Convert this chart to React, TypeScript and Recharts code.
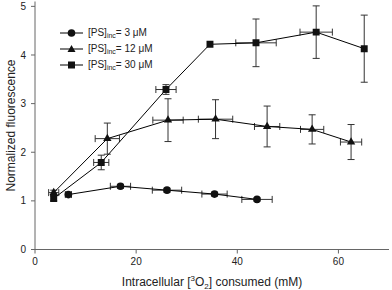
import { ScatterChart, Scatter, XAxis, YAxis, ErrorBar, Symbols } from 'recharts';

const xTicks = [0, 20, 40, 60];
const yTicks = [0, 1, 2, 3, 4, 5];

// [PS]inc = 3 uM
const x3 = [6.6, 16.9, 26.1, 35.5, 43.9];
const y3 = [1.13, 1.3, 1.22, 1.14, 1.03];
const ex3 = [0.6, 2.0, 2.9, 2.5, 3.0];
const ey3 = [0.03, 0.04, 0.04, 0.04, 0.03];

// [PS]inc = 12 uM
const x12 = [3.7, 14.3, 26.3, 35.7, 45.9, 54.8, 62.5];
const y12 = [1.17, 2.28, 2.66, 2.68, 2.53, 2.47, 2.21];
const ex12 = [1.0, 2.4, 3.0, 3.4, 2.5, 2.3, 2.1];
const ey12 = [0.05, 0.32, 0.44, 0.4, 0.42, 0.3, 0.36];

// [PS]inc = 30 uM
const x30 = [3.7, 13.1, 25.9, 34.6, 43.7, 55.6, 65.1];
const y30 = [1.05, 1.79, 3.29, 4.22, 4.25, 4.47, 4.13];
const ex30 = [0.5, 1.5, 2.0, 0, 4.0, 3.2, 0];
const ey30 = [0.05, 0.15, 0.1, 0, 0.49, 0.54, 0.69];

const toRows = (xs: number[], ys: number[], exs: number[], eys: number[]) =>
  xs.map((x, i) => ({ x, y: ys[i], ex: exs[i], ey: eys[i] }));

const series = [
  { conc: '3', shape: 'circle', size: 46, data: toRows(x3, y3, ex3, ey3) },
  { conc: '12', shape: 'triangle', size: 30, data: toRows(x12, y12, ex12, ey12) },
  { conc: '30', shape: 'square', size: 48, data: toRows(x30, y30, ex30, ey30) },
];

const font = '"Liberation Sans", Arial, sans-serif';

const XLabel = ({ viewBox }: any) => (
  <text x={viewBox.x + viewBox.width / 2} y={viewBox.y + 36} textAnchor="middle" fontSize={12} fill="#222">
    Intracellular [<tspan dy={-5} fontSize={8}>3</tspan>
    <tspan dy={5}>O</tspan>
    <tspan dy={3} fontSize={8}>2</tspan>
    <tspan dy={-3}>] consumed (mM)</tspan>
  </text>
);

const YLabel = ({ viewBox }: any) => {
  const cx = 11;
  const cy = viewBox.y + viewBox.height / 2;
  return (
    <text x={cx} y={cy} transform={`rotate(-90 ${cx} ${cy})`} textAnchor="middle" dominantBaseline="central" fontSize={12} fill="#222">
      Normalized fluorescence
    </text>
  );
};

const LegendIcon = ({ shape }: { shape: string }) => (
  <svg width={24} height={10} style={{ display: 'block' }}>
    <line x1={0} y1={5} x2={23} y2={5} stroke="#000" strokeWidth={1} />
    {shape === 'circle' && <circle cx={11.5} cy={5} r={3.8} fill="#111" />}
    {shape === 'triangle' && <polygon points="11.5,1 15.5,8 7.5,8" fill="#111" />}
    {shape === 'square' && <rect x={8} y={1.5} width={7} height={7} fill="#111" />}
  </svg>
);

export default function App() {
  return (
    <div style={{ position: 'relative', width: 392, height: 290, fontFamily: font, background: '#fff' }}>
      <style>{`body{margin:0}`}</style>
      <ScatterChart width={392} height={290} margin={{ top: 1.5, right: 3, bottom: 0, left: 0 }}>
        <XAxis
          xAxisId="b"
          type="number"
          dataKey="x"
          domain={[0, 70]}
          ticks={xTicks}
          tickSize={4}
          tickMargin={4}
          height={40.5}
          stroke="#666"
          tick={{ fontSize: 10, fill: '#222' }}
          allowDataOverflow
          label={<XLabel />}
        />
        <XAxis xAxisId="t" orientation="top" type="number" domain={[0, 70]} height={0} tick={false} tickLine={false} stroke="#999" />
        <YAxis
          yAxisId="l"
          type="number"
          dataKey="y"
          domain={[0, 5.1]}
          ticks={yTicks}
          tickSize={4}
          tickMargin={5}
          width={35}
          stroke="#666"
          tick={{ fontSize: 10, fill: '#222' }}
          allowDataOverflow
          label={<YLabel />}
        />
        <YAxis yAxisId="r" orientation="right" type="number" domain={[0, 5.1]} width={0} tick={false} tickLine={false} stroke="#999" />
        {series.map((s) => (
          <Scatter
            key={s.conc}
            xAxisId="b"
            yAxisId="l"
            data={s.data}
            shape={(p: any) => <Symbols cx={p.cx} cy={p.cy} type={s.shape as any} size={s.size} fill="#111" />}
            fill="#111"
            line={{ stroke: '#000', strokeWidth: 1 }}
            isAnimationActive={false}
          >
            <ErrorBar dataKey="ex" direction="x" width={3.5} stroke="#333" strokeWidth={1} isAnimationActive={false} />
            <ErrorBar dataKey="ey" direction="y" width={3.5} stroke="#333" strokeWidth={1} isAnimationActive={false} />
          </Scatter>
        ))}
      </ScatterChart>
      <div style={{ position: 'absolute', left: 60, top: 25, fontSize: 10, color: '#222' }}>
        {series.map((s) => (
          <div key={s.conc} style={{ display: 'flex', alignItems: 'center', height: 16 }}>
            <LegendIcon shape={s.shape} />
            <span style={{ marginLeft: 4, whiteSpace: 'nowrap' }}>
              [PS]<sub style={{ fontSize: 7, verticalAlign: '-2px' }}>inc</sub>= {s.conc} μM
            </span>
          </div>
        ))}
      </div>
    </div>
  );
}
